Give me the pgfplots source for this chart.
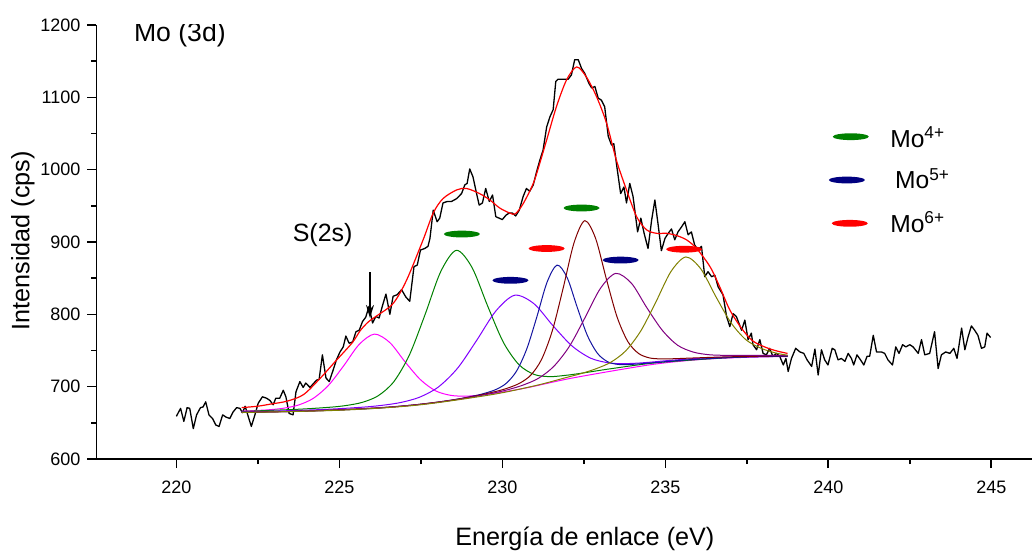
\documentclass[border=0pt]{standalone}
\usepackage{fontspec}
\setmainfont{Liberation Sans}
\usepackage{pgfplots}
\pgfplotsset{compat=1.18}
\usetikzlibrary{arrows.meta}

% flat oval marker used to tag the oxidation states
\pgfdeclareplotmark{oval}{%
  \pgfpathellipse{\pgfpointorigin}{\pgfpoint{9pt}{0pt}}{\pgfpoint{0pt}{1.7pt}}%
  \pgfusepathqfill}

\definecolor{cMag}{RGB}{255,0,255}
\definecolor{cGreen}{RGB}{0,128,0}
\definecolor{cViolet}{RGB}{128,0,255}
\definecolor{cBlue}{RGB}{20,20,160}
\definecolor{cBrown}{RGB}{128,0,0}
\definecolor{cPurple}{RGB}{128,0,128}
\definecolor{cOlive}{RGB}{128,128,0}
\definecolor{cNavy}{RGB}{0,0,128}

\begin{document}
\begin{tikzpicture}
\begin{axis}[
  scale only axis,
  width=467.75pt, height=217pt,
  xmin=217.55, xmax=246.25,
  ymin=600, ymax=1200,
  axis x line=bottom, axis y line=left,
  axis line style={-, line width=0.9pt},
  xtick={220,225,...,245},
  ytick={600,700,...,1200},
  minor x tick num=1, minor y tick num=1,
  tick align=outside,
  major tick length=4.5pt, minor tick length=2.6pt,
  every tick/.style={black, line width=0.8pt},
  tick label style={font=\fontsize{9}{11}\selectfont},
  /pgf/number format/assume math mode=true,
  /pgf/number format/1000 sep={},
  xticklabel style={yshift=-3pt},
  xlabel={Energía de enlace (eV)},
  ylabel={Intensidad (cps)},
  label style={font=\fontsize{12.6}{15}\selectfont},
  xlabel style={at={(axis description cs:0.522,-0.1993)}, anchor=base},
  ylabel style={at={(axis description cs:-0.0718,0.503)}, anchor=base},
]

% measured spectrum
\addplot[black, line width=0.65pt, line join=round] coordinates {
(220.00,659) (220.13,670) (220.23,652) (220.33,671) (220.41,670) (220.52,642)
(220.62,661) (220.74,671) (220.82,672) (220.90,679) (221.00,661) (221.11,656)
(221.21,647) (221.31,645) (221.42,661) (221.52,658) (221.64,656) (221.74,665)
(221.85,671) (221.95,670) (222.03,664) (222.11,673) (222.19,661) (222.30,645)
(222.41,661) (222.51,677) (222.64,686) (222.77,684) (222.87,681) (222.97,675)
(223.05,684) (223.17,684) (223.28,695) (223.36,686) (223.46,663) (223.58,661)
(223.67,693) (223.79,707) (223.89,699) (223.97,705) (224.10,699) (224.20,704)
(224.30,709) (224.38,710) (224.48,744) (224.59,712) (224.69,707) (224.81,723)
(224.91,737) (225.02,748) (225.12,755) (225.20,770) (225.30,760) (225.41,762)
(225.51,776) (225.61,778) (225.71,790) (225.81,796) (225.91,811) (226.02,788)
(226.12,797) (226.22,795) (226.33,813) (226.43,828) (226.55,800) (226.65,825)
(226.77,827) (226.91,834) (227.04,824) (227.16,818) (227.29,866) (227.39,868)
(227.49,889) (227.62,891) (227.72,894) (227.78,905) (227.88,944) (228.00,928)
(228.08,933) (228.18,954) (228.31,956) (228.44,956) (228.60,960) (228.75,967)
(228.85,979) (228.92,981) (229.00,1001) (229.10,990) (229.21,967) (229.29,951)
(229.39,954) (229.49,974) (229.60,956) (229.70,965) (229.80,935) (229.90,933)
(230.00,931) (230.11,937) (230.21,940) (230.31,940) (230.41,936) (230.52,944)
(230.64,963) (230.74,974) (230.84,970) (230.95,979) (231.05,997) (231.15,1013)
(231.25,1027) (231.36,1059) (231.46,1073) (231.56,1083) (231.64,1122) (231.71,1125)
(231.87,1125) (232.02,1125) (232.12,1131) (232.22,1152) (232.33,1152) (232.43,1140)
(232.53,1133) (232.66,1119) (232.74,1113) (232.84,1115) (232.94,1099) (233.04,1096)
(233.14,1087) (233.25,1046) (233.35,1034) (233.42,1036) (233.52,1002) (233.63,967)
(233.73,976) (233.81,954) (233.91,981) (234.01,963) (234.15,914) (234.25,933)
(234.35,912) (234.47,891) (234.58,930) (234.68,958) (234.78,924) (234.88,888)
(234.99,905) (235.09,912) (235.19,918) (235.29,903) (235.39,914) (235.50,921)
(235.60,928) (235.70,910) (235.80,914) (235.90,896) (236.00,889) (236.11,894)
(236.21,852) (236.31,859) (236.42,852) (236.52,854) (236.62,838) (236.77,827)
(236.88,797) (236.98,783) (237.08,801) (237.18,797) (237.34,778) (237.44,792)
(237.54,765) (237.64,774) (237.69,758) (237.80,751) (237.90,765) (238.00,746)
(238.10,744) (238.20,753) (238.30,742) (238.41,746) (238.51,742) (238.62,730)
(238.70,739) (238.77,721) (238.87,739) (239.00,753) (239.13,748) (239.25,746)
(239.35,737) (239.49,728) (239.59,752) (239.69,716) (239.79,751) (239.89,737)
(239.99,730) (240.12,753) (240.20,751) (240.30,737) (240.40,739) (240.51,735)
(240.61,746) (240.71,739) (240.78,730) (240.88,744) (240.99,737) (241.09,730)
(241.19,742) (241.27,742) (241.38,771) (241.48,748) (241.63,748) (241.73,746)
(241.83,737) (241.97,730) (242.07,755) (242.17,746) (242.28,758) (242.38,755)
(242.50,758) (242.60,755) (242.76,746) (242.86,765) (242.96,744) (243.11,746)
(243.26,776) (243.37,725) (243.47,744) (243.60,748) (243.73,746) (243.85,753)
(243.95,739) (244.09,781) (244.19,751) (244.29,769) (244.39,784) (244.49,778)
(244.59,771) (244.70,753) (244.80,755) (244.87,774) (244.98,768)
};

% fitted components (each drawn on top of the background)
\addplot[cMag, line width=0.5pt, smooth] coordinates {
(222.00,666.2) (222.32,666.8) (222.79,667.9) (223.26,670.0) (223.73,674.4)
(224.20,683.8) (224.67,702.0) (225.14,729.3) (225.61,758.5) (226.08,772.7)
(226.55,760.9) (227.02,734.1) (227.49,709.6) (227.96,694.1) (228.43,687.9)
(228.90,686.9) (229.37,688.6) (229.84,691.3) (230.78,698.7) (232.19,712.3)
(234.54,730.3) (236.00,737.3) (237.00,739.8) (238.00,741.2) (238.75,741.7)
};
\addplot[cGreen, line width=0.5pt, smooth] coordinates {
(222.00,665.8) (222.35,666.3) (223.79,668.9) (224.75,671.7) (225.23,674.1)
(225.71,678.4) (226.19,687.4) (226.67,706.8) (227.15,743.9) (227.63,799.7)
(228.11,859.0) (228.59,888.5) (229.07,864.8) (229.55,811.5) (230.03,761.5)
(230.51,730.4) (230.99,716.7) (231.47,713.9) (231.95,715.7) (232.43,718.6)
(233.39,725.2) (234.83,733.5) (237.23,740.9) (238.75,742.3)
};
\addplot[cViolet, line width=0.5pt, smooth] coordinates {
(222.00,665.1) (222.78,665.9) (224.53,668.5) (225.70,671.6) (226.29,674.1)
(226.87,678.0) (227.46,685.4) (228.04,699.6) (228.63,725.7) (229.21,763.8)
(229.80,804.5) (230.38,826.4) (230.97,814.7) (231.55,784.5) (232.14,756.2)
(232.72,739.2) (233.31,732.6) (233.89,732.0) (234.48,733.6) (235.06,736.0)
(236.23,739.7) (237.99,742.3) (238.75,742.6)
};
\addplot[cBlue, line width=0.5pt, smooth] coordinates {
(222.00,664.3) (224.00,666.3) (226.10,670.1) (227.65,676.5) (228.58,682.5)
(229.20,687.9) (229.51,691.5) (229.82,696.4) (230.13,705.0) (230.44,721.8)
(230.75,752.2) (231.06,796.6) (231.37,844.1) (231.68,868.1) (231.99,850.6)
(232.30,809.4) (232.61,770.7) (232.92,746.0) (233.23,734.5) (233.54,730.8)
(233.85,730.6) (234.16,731.4) (234.78,733.7) (235.71,737.2) (237.26,740.7)
(238.75,742.0)
};
\addplot[cBrown, line width=0.5pt, smooth] coordinates {
(222.00,664.5) (224.00,666.3) (226.59,671.8) (228.24,680.0) (229.23,687.6)
(229.89,694.4) (230.22,698.9) (230.55,705.2) (230.88,716.2) (231.21,738.2)
(231.54,778.2) (231.87,836.9) (232.20,898.9) (232.53,929.5) (232.86,905.2)
(233.19,849.2) (233.52,796.4) (233.85,762.4) (234.18,745.9) (234.51,739.8)
(234.84,738.4) (235.17,738.5) (235.83,739.6) (236.82,741.1) (238.47,742.6)
(238.75,742.5)
};
\addplot[cPurple, line width=0.5pt, smooth] coordinates {
(222.00,664.4) (224.93,667.6) (227.31,674.7) (228.73,683.0) (229.68,690.8)
(230.16,695.7) (230.63,702.1) (231.11,711.6) (231.58,728.1) (232.06,755.9)
(232.53,794.8) (233.01,835.9) (233.48,856.6) (233.96,843.0) (234.43,809.4)
(234.91,777.8) (235.38,757.2) (235.86,747.8) (236.33,744.2) (236.81,743.3)
(237.28,743.2) (238.23,743.4) (238.75,743.2)
};
\addplot[cOlive, line width=0.5pt, smooth] coordinates {
(222.00,664.3) (225.00,667.4) (227.35,674.3) (229.65,688.8) (231.03,701.6)
(231.95,712.5) (232.41,718.0) (232.87,724.7) (233.33,733.8) (233.79,749.7)
(234.25,777.2) (234.71,817.0) (235.17,858.9) (235.63,879.3) (236.09,862.8)
(236.55,824.6) (237.01,788.7) (237.47,765.0) (237.93,753.2) (238.39,746.5)
(238.75,743.5)
};

% envelope of the fit
\addplot[red, line width=0.6pt, smooth] coordinates {
(222.00,671) (222.50,673) (222.90,676) (223.40,680) (223.90,689) (224.40,711)
(224.90,736) (225.40,761) (225.65,778) (225.90,790) (226.15,798) (226.65,815)
(227.06,847) (227.57,903) (227.88,940) (228.18,960) (228.60,972) (228.90,974)
(229.30,967) (229.62,958) (229.92,947) (230.23,940) (230.40,939) (230.64,953)
(230.95,981) (231.15,1009) (231.36,1041) (231.66,1087) (231.97,1124) (232.28,1142)
(232.58,1128) (232.89,1101) (233.20,1064) (233.50,1013) (233.81,972) (234.12,935)
(234.42,917) (234.73,912) (235.04,912) (235.34,909) (235.65,903) (235.96,891)
(236.37,866) (236.67,838) (236.98,806) (237.35,780) (237.69,763) (238.10,754)
(238.45,749) (238.75,746)
};

% oxidation-state tags and key
\addplot[only marks, mark=oval, color=cGreen] coordinates {(228.76,911) (232.43,947) (240.69,1045.6)};
\addplot[only marks, mark=oval, color=cNavy] coordinates {(230.25,847) (233.63,875) (240.57,985.7)};
\addplot[only marks, mark=oval, color=red] coordinates {(231.36,891) (235.58,890) (240.66,925.8)};

\node[anchor=base west, inner sep=0pt, font=\fontsize{12.3}{15}\selectfont] at (axis cs:241.89,1031.3) {Mo\textsuperscript{4+}};
\node[anchor=base west, inner sep=0pt, font=\fontsize{12.3}{15}\selectfont] at (axis cs:242.04,973.5) {Mo\textsuperscript{5+}};
\node[anchor=base west, inner sep=0pt, font=\fontsize{12.3}{15}\selectfont] at (axis cs:241.89,913.6) {Mo\textsuperscript{6+}};

\node[anchor=base west, inner sep=0pt, font=\fontsize{13.3}{16}\selectfont] at (axis cs:218.69,1176.9) {Mo (3d)};
\node[anchor=base west, inner sep=0pt, font=\fontsize{12.5}{15}\selectfont] at (axis cs:223.56,900.4) {S(2s)};
\draw[-{Stealth[length=6.5pt,width=4pt]}, line width=0.6pt] (axis cs:225.94,858) -- (axis cs:225.94,795);
\end{axis}
\pgfresetboundingbox
\path[use as bounding box] ([shift={(-48.25pt,-46pt)}]current axis.south west) rectangle ([shift={(467.75pt,229.5pt)}]current axis.south west);
\end{tikzpicture}
\end{document}
